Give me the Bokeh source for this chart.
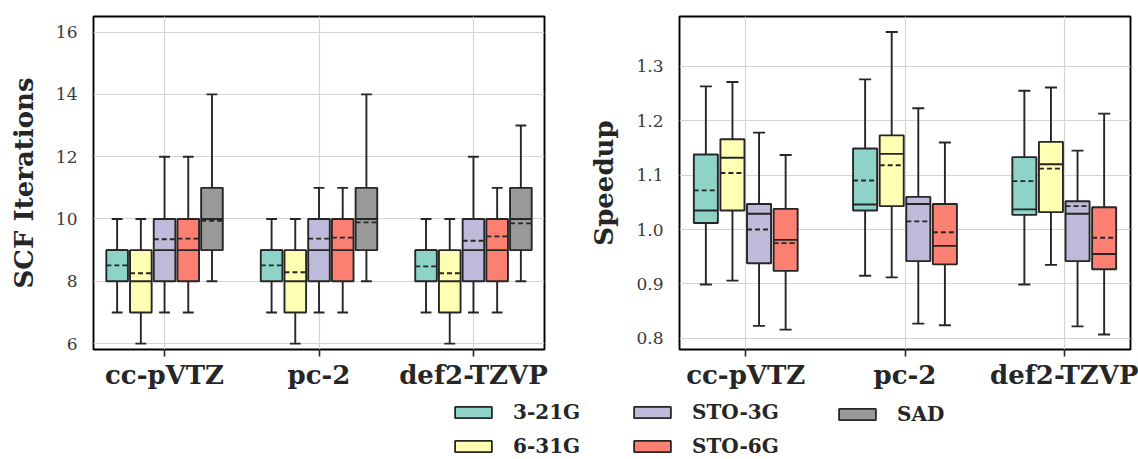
from bokeh.plotting import figure
from bokeh.layouts import row, column
from bokeh.models import (ColumnDataSource, Range1d, FixedTicker, PrintfTickFormatter,
                          Legend, LegendItem)
from bokeh.embed import file_html
from bokeh.resources import INLINE

# ---------------- data ----------------
cats = ["cc-pVTZ", "pc-2", "def2-TZVP"]
scf_basis = ["3-21G", "6-31G", "STO-3G", "STO-6G", "SAD"]
sp_basis = ["3-21G", "6-31G", "STO-3G", "STO-6G"]
colors = {"3-21G": "#8dd3c7", "6-31G": "#ffffb3", "STO-3G": "#bebada",
          "STO-6G": "#fb8072", "SAD": "#999999"}

scf_ticks = [6, 8, 10, 12, 14, 16]
sp_ticks = [0.8, 0.9, 1.0, 1.1, 1.2, 1.3]

# SCF iterations (per basis, per category)
scf_q1 = {"3-21G": [8, 8, 8], "6-31G": [7, 7, 7], "STO-3G": [8, 8, 8], "STO-6G": [8, 8, 8], "SAD": [9, 9, 9]}
scf_med = {"3-21G": [9, 9, 9], "6-31G": [8, 8, 8], "STO-3G": [9, 9, 9], "STO-6G": [9, 9, 9], "SAD": [10, 10, 10]}
scf_q3 = {"3-21G": [9, 9, 9], "6-31G": [9, 9, 9], "STO-3G": [10, 10, 10], "STO-6G": [10, 10, 10], "SAD": [11, 11, 11]}
scf_lo = {"3-21G": [7, 7, 7], "6-31G": [6, 6, 6], "STO-3G": [7, 7, 7], "STO-6G": [7, 7, 7], "SAD": [8, 8, 8]}
scf_hi = {"3-21G": [10, 10, 10], "6-31G": [10, 10, 10], "STO-3G": [12, 11, 12], "STO-6G": [12, 11, 11], "SAD": [14, 14, 13]}
scf_mean = {"3-21G": [8.51, 8.51, 8.48], "6-31G": [8.26, 8.29, 8.26], "STO-3G": [9.35, 9.37, 9.30],
            "STO-6G": [9.37, 9.40, 9.44], "SAD": [9.94, 9.89, 9.86]}

# Speedup (per basis, per category)
sp_q1 = {"3-21G": [1.012, 1.035, 1.027], "6-31G": [1.035, 1.043, 1.032],
         "STO-3G": [0.938, 0.942, 0.942], "STO-6G": [0.924, 0.936, 0.927]}
sp_med = {"3-21G": [1.035, 1.046, 1.037], "6-31G": [1.132, 1.139, 1.120],
          "STO-3G": [1.029, 1.047, 1.029], "STO-6G": [0.981, 0.970, 0.955]}
sp_q3 = {"3-21G": [1.138, 1.149, 1.133], "6-31G": [1.166, 1.173, 1.161],
         "STO-3G": [1.047, 1.060, 1.052], "STO-6G": [1.038, 1.047, 1.041]}
sp_lo = {"3-21G": [0.899, 0.915, 0.899], "6-31G": [0.906, 0.912, 0.935],
         "STO-3G": [0.823, 0.827, 0.822], "STO-6G": [0.816, 0.824, 0.807]}
sp_hi = {"3-21G": [1.263, 1.276, 1.255], "6-31G": [1.271, 1.363, 1.261],
         "STO-3G": [1.178, 1.223, 1.145], "STO-6G": [1.137, 1.160, 1.213]}
sp_mean = {"3-21G": [1.072, 1.090, 1.089], "6-31G": [1.104, 1.118, 1.112],
           "STO-3G": [1.000, 1.015, 1.043], "STO-6G": [0.975, 0.995, 0.985]}

SERIF = "DejaVu Serif"
DARK = "#262626"
LW = 1.9


def style(p, yticks, ylabel, fmt=None):
    p.outline_line_color = "black"
    p.outline_line_width = 1.9
    p.xaxis.ticker = FixedTicker(ticks=list(range(len(cats))))
    p.xaxis.major_label_overrides = {i: c for i, c in enumerate(cats)}
    p.xaxis.major_label_text_font = SERIF
    p.xaxis.major_label_text_font_style = "bold"
    p.xaxis.major_label_text_font_size = "26px"
    p.xaxis.major_label_text_color = DARK
    p.xaxis.major_tick_out = 7
    p.xaxis.major_tick_in = 0
    p.xaxis.major_tick_line_width = 1.6
    p.xaxis.major_tick_line_color = DARK
    p.xaxis.minor_tick_line_color = None
    p.xaxis.axis_line_color = None
    p.xaxis.major_label_standoff = 3

    p.yaxis.ticker = FixedTicker(ticks=yticks)
    if fmt:
        p.yaxis.formatter = PrintfTickFormatter(format=fmt)
    p.yaxis.major_label_text_font = SERIF
    p.yaxis.major_label_text_font_size = "17px"
    p.yaxis.major_label_text_color = "#3a3a3a"
    p.yaxis.major_tick_out = 0
    p.yaxis.major_tick_in = 0
    p.yaxis.minor_tick_line_color = None
    p.yaxis.axis_line_color = None
    p.yaxis.major_label_standoff = 16
    p.yaxis.axis_label = ylabel
    p.yaxis.axis_label_text_font = SERIF
    p.yaxis.axis_label_text_font_style = "bold"
    p.yaxis.axis_label_text_font_size = "26px"
    p.yaxis.axis_label_text_color = DARK
    p.yaxis.axis_label_standoff = 14

    p.xgrid.ticker = FixedTicker(ticks=list(range(len(cats))))
    p.ygrid.ticker = FixedTicker(ticks=yticks)
    for g in (p.xgrid, p.ygrid):
        g.grid_line_color = "#d4d4d4"
        g.grid_line_width = 1.2


def draw_boxes(p, basis, q1, med, q3, lo, hi, mean, step, bw):
    n = len(basis)
    for j, b in enumerate(basis):
        off = (j - (n - 1) / 2) * step
        x = [i + off for i in range(len(cats))]
        src = ColumnDataSource(dict(
            x=x, q1=q1[b], med=med[b], q3=q3[b], lo=lo[b], hi=hi[b], mean=mean[b],
            xl=[v - bw / 2 for v in x], xr=[v + bw / 2 for v in x],
            cl=[v - bw / 4 for v in x], cr=[v + bw / 4 for v in x]))
        p.segment(x0="x", y0="lo", x1="x", y1="q1", source=src, line_color=DARK, line_width=LW)
        p.segment(x0="x", y0="q3", x1="x", y1="hi", source=src, line_color=DARK, line_width=LW)
        p.segment(x0="cl", y0="lo", x1="cr", y1="lo", source=src, line_color=DARK, line_width=LW)
        p.segment(x0="cl", y0="hi", x1="cr", y1="hi", source=src, line_color=DARK, line_width=LW)
        p.vbar(x="x", width=bw, bottom="q1", top="q3", source=src,
               fill_color=colors[b], line_color=DARK, line_width=LW)
        p.segment(x0="xl", y0="med", x1="xr", y1="med", source=src, line_color=DARK, line_width=LW)
        p.segment(x0="xl", y0="mean", x1="xr", y1="mean", source=src, line_color=DARK,
                  line_width=LW, line_dash="5 3")


# ---------------- left panel ----------------
p1 = figure(width=580, height=392, x_range=Range1d(-0.46, 2.46), y_range=Range1d(5.81, 16.5),
            output_backend="svg", toolbar_location=None,
            min_border_left=93, min_border_right=36, min_border_top=16, min_border_bottom=40)
style(p1, scf_ticks, "SCF Iterations")
draw_boxes(p1, scf_basis, scf_q1, scf_med, scf_q3, scf_lo, scf_hi, scf_mean, 0.1535, 0.14)

# ---------------- right panel ----------------
p2 = figure(width=558, height=392, x_range=Range1d(-0.416, 2.416), y_range=Range1d(0.7795, 1.3915),
            output_backend="svg", toolbar_location=None,
            min_border_left=99, min_border_right=8, min_border_top=15, min_border_bottom=40)
style(p2, sp_ticks, "Speedup", fmt="%.1f")
draw_boxes(p2, sp_basis, sp_q1, sp_med, sp_q3, sp_lo, sp_hi, sp_mean, 0.167, 0.151)

# ---------------- legend ----------------
pl = figure(width=1138, height=67, x_range=Range1d(0, 1), y_range=Range1d(0, 1),
            output_backend="svg", toolbar_location=None,
            min_border_left=0, min_border_right=0, min_border_top=0, min_border_bottom=0)
pl.axis.visible = False
pl.grid.visible = False
pl.outline_line_color = None

nan = float("nan")
rends = {}
for b in scf_basis:
    rends[b] = pl.vbar(x=[nan], top=[nan], bottom=[nan], width=0.1,
                       fill_color=colors[b], line_color=DARK, line_width=1.8)

legend_cols = [["3-21G", "6-31G"], ["STO-3G", "STO-6G"], ["SAD"]]
legend_x = [450, 629, 834]
for names, lx in zip(legend_cols, legend_x):
    items = [LegendItem(label=n, renderers=[rends[n]]) for n in names]
    leg = Legend(items=items, location=(lx, 67 - 12 - 22 * len(names) - 10 * (len(names) - 1)),
                 orientation="vertical", padding=0, margin=0, spacing=10,
                 glyph_width=46, glyph_height=14, label_height=22, label_standoff=17,
                 label_text_font=SERIF, label_text_font_style="bold", label_text_font_size="20px",
                 label_text_color=DARK, border_line_color=None, background_fill_alpha=0)
    pl.add_layout(leg, "center")

layout = column(row(p1, p2), pl)
open("out.html", "w").write(file_html(layout, INLINE))
